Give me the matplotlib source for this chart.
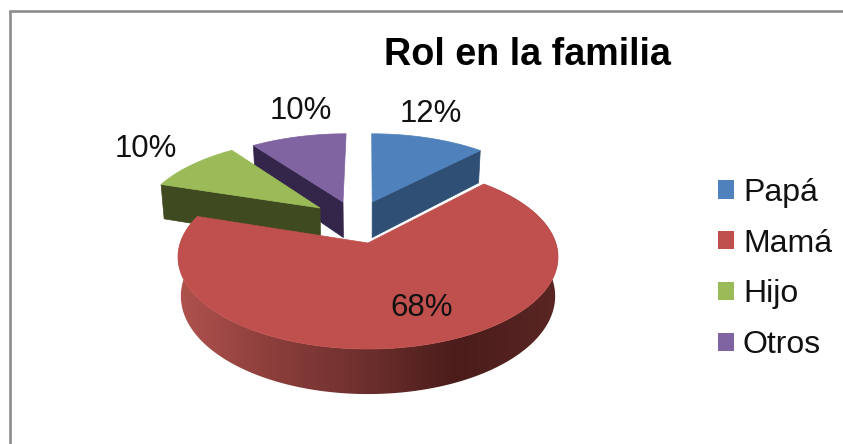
import numpy as np
import matplotlib
matplotlib.use("Agg")
import matplotlib.pyplot as plt
from matplotlib.colors import LinearSegmentedColormap
from matplotlib.patches import Patch, Polygon

plt.rcParams['font.family'] = ['Liberation Sans', 'DejaVu Sans']

categorias = ['Papá', 'Mamá', 'Hijo', 'Otros']
valores = [12, 68, 10, 10]
colores = ['#4F81BD', '#C0504D', '#9BBB59', '#8064A2']
colores_pared = ['#2F4F75', '#7A2F2C', '#3F4A20', '#33264A']
titulo = 'Rol en la familia'

# separación de cada porción sobre el disco (u, v)
separacion = [(0.024, 0.49), (0.0, 0.0), (-0.272, 0.414), (-0.143, 0.49)]
pos_etiquetas = [(431, 114), (422, 308), (146, 149), (301, 111)]

# perspectiva del disco
cx, cy = 368, 243
kx, ky, k = 187.8, 89.9, 0.152
grosor = 38.2
encoge = 0.015


def proyectar(u, v, abajo=False):
    w = 1 + k * v
    x = cx + kx * u / w
    y = cy - ky * v / w
    if abajo:
        x = cx + (x - cx) * (1 - encoge)
        y = y + grosor / w
    return np.column_stack([x, y])


fig = plt.figure(figsize=(8.43, 4.44), dpi=100)
ax = fig.add_axes([0, 0, 1, 1])
ax.set_xlim(0, 843)
ax.set_ylim(444, 0)
ax.axis('off')

# marco
ax.plot([9.5, 9.5, 843], [444, 11, 11], color='#8C8C8C', lw=1.9, solid_joinstyle='miter')

# ángulos de cada porción, desde arriba en sentido horario
fin = np.cumsum(valores) / sum(valores) * 2 * np.pi
inicio = np.r_[0, fin[:-1]]


def arco(i, abajo=False):
    t = np.linspace(inicio[i], fin[i], 200)
    du, dv = separacion[i]
    return t, proyectar(du + np.sin(t), dv + np.cos(t), abajo)


def apice(i, abajo=False):
    du, dv = separacion[i]
    return proyectar(np.array([du]), np.array([dv]), abajo)


def dibuja_pared_radial(i, borde):
    t, sup = arco(i)
    _, inf = arco(i, True)
    j = 0 if borde == 'inicio' else -1
    pts = np.vstack([apice(i), sup[[j]], inf[[j]], apice(i, True)])
    ax.add_patch(Polygon(pts, closed=True, fc=colores_pared[i], ec=colores_pared[i], lw=0.5, zorder=2))


def dibuja_tapa(i, z):
    _, sup = arco(i)
    pts = np.vstack([apice(i), sup])
    ax.add_patch(Polygon(pts, closed=True, fc=colores[i], ec=colores[i], lw=0.5, zorder=z))


# porciones de atrás
dibuja_pared_radial(3, 'inicio')
dibuja_tapa(3, 3)
dibuja_pared_radial(2, 'inicio')
dibuja_tapa(2, 3)
dibuja_pared_radial(0, 'fin')
dibuja_tapa(0, 3)

# pared curva de Mamá con degradado
_, sup = arco(1)
_, inf = arco(1, True)
pared = Polygon(np.vstack([sup, inf[::-1]]), closed=True, fc='none', ec='none', transform=ax.transData)
ax.add_patch(pared)
degradado = LinearSegmentedColormap.from_list('pared', [
    (0.0, '#B0524E'), (0.22, '#8F403D'), (0.55, '#652B29'),
    (0.73, '#4A1C1A'), (1.0, '#5A2624')])
img = ax.imshow(np.linspace(0, 1, 380)[None, :], cmap=degradado, extent=(178, 560, 400, 150),
                aspect='auto', zorder=4)
img.set_clip_path(pared)
ax.set_xlim(0, 843)
ax.set_ylim(444, 0)
dibuja_tapa(1, 5)

# porcentajes
for v, (x, y) in zip(valores, pos_etiquetas):
    ax.text(x, y, f'{v}%', ha='center', va='center', fontsize=22.4, color='#111111', zorder=6)

ax.text(527, 55, titulo, ha='center', va='center', fontsize=27.2, fontweight='bold', color='#000000')

# leyenda
handles = [Patch(fc=c, ec='none') for c in colores]
ax.legend(handles, categorias, loc='center left', bbox_to_anchor=(718 / 843, 1 - 269 / 444),
          frameon=False, fontsize=23, handlelength=0.5, handleheight=0.5, handletextpad=0.28,
          labelspacing=0.65, borderpad=0, borderaxespad=0, labelcolor='#111111')

fig.savefig('out.png', dpi=100)
